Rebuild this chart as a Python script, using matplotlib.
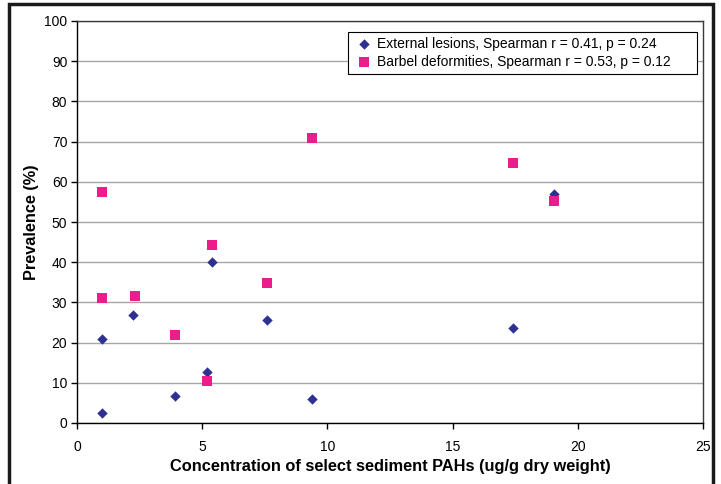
import matplotlib
matplotlib.use("Agg")
import matplotlib.pyplot as plt
from matplotlib.patches import Rectangle

plt.rcParams['font.family'] = ['Liberation Sans', 'DejaVu Sans']

# PAH concentration per site (ug/g dry weight)
conc_lesions = [1.0, 1.0, 2.25, 3.9, 5.2, 5.4, 7.6, 9.4, 17.4, 19.05]
prev_lesions = [2.6, 20.8, 26.9, 6.7, 12.6, 40.1, 25.6, 6.0, 23.6, 57.0]

conc_barbel = [1.0, 1.0, 2.3, 3.9, 5.2, 5.4, 7.6, 9.4, 17.4, 19.05]
prev_barbel = [57.4, 31.1, 31.6, 21.9, 10.4, 44.4, 34.9, 70.8, 64.7, 55.2]

label_lesions = 'External lesions, Spearman r = 0.41, p = 0.24'
label_barbel = 'Barbel deformities, Spearman r = 0.53, p = 0.12'

xticks = [0, 5, 10, 15, 20, 25]
yticks = list(range(0, 101, 10))

fig = plt.figure(figsize=(7.21, 4.84), dpi=100)
ax = fig.add_axes([77 / 721, 61 / 484, 626 / 721, 402 / 484])

ax.scatter(conc_lesions, prev_lesions, marker='D', s=28, color='#2E3192',
           linewidths=0, label=label_lesions, zorder=3)
ax.scatter(conc_barbel, prev_barbel, marker='s', s=52, color='#EC1C8C',
           linewidths=0, label=label_barbel, zorder=3)

ax.set_xlim(0, 25)
ax.set_ylim(0, 100)
ax.set_xticks(xticks)
ax.set_yticks(yticks)
ax.yaxis.grid(True, color='#A6A6A6', linewidth=1.0)
ax.set_axisbelow(True)
ax.tick_params(direction='out', length=4, width=1, labelsize=10, colors='black', pad=3)
ax.tick_params(axis='x', pad=8)

for side in ['left', 'bottom']:
    ax.spines[side].set_color('black')
    ax.spines[side].set_linewidth(1.0)
for side in ['top', 'right']:
    ax.spines[side].set_color('#3a3a3a')
    ax.spines[side].set_linewidth(1.0)

ax.set_xlabel('Concentration of select sediment PAHs (ug/g dry weight)',
              fontsize=11.8, fontweight='bold', labelpad=4)
ax.set_ylabel('Prevalence (%)', fontsize=11.7, fontweight='bold')
ax.yaxis.set_label_coords(-0.061, 0.5)

leg = ax.legend(loc='upper left', bbox_to_anchor=(0.433, 0.8706, 0.5575, 0.102),
                mode='expand', fontsize=10,
                frameon=True, fancybox=False, edgecolor='black', framealpha=1,
                handletextpad=0.1, handlelength=1.6, borderpad=0.35,
                labelspacing=0.3, borderaxespad=0)
leg.get_frame().set_linewidth(0.8)

# outer chart border
fig.patches.append(Rectangle((9 / 721, -0.05), 704 / 721, 1.05 - 4 / 484,
                             transform=fig.transFigure, fill=False,
                             edgecolor='#1a1a1a', linewidth=2.5))

fig.savefig('out.png', dpi=100)
